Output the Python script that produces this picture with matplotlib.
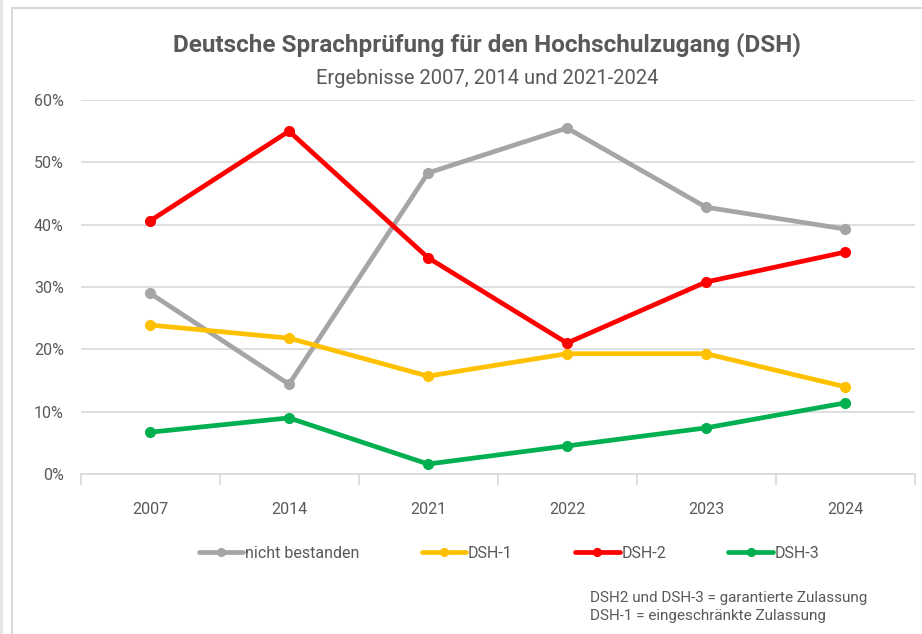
import matplotlib
matplotlib.use("Agg")
import matplotlib.pyplot as plt
from matplotlib.patches import Rectangle
from matplotlib.ticker import FixedLocator, PercentFormatter

years = ["2007", "2014", "2021", "2022", "2023", "2024"]
nicht_bestanden = [29.0, 14.4, 48.3, 55.5, 42.8, 39.3]
dsh1 = [23.9, 21.8, 15.7, 19.3, 19.3, 14.0]
dsh2 = [40.6, 55.0, 34.7, 21.0, 30.8, 35.6]
dsh3 = [6.7, 9.0, 1.6, 4.5, 7.4, 11.4]
series_names = ["nicht bestanden", "DSH-1", "DSH-2", "DSH-3"]
colors = ["#a5a5a5", "#ffc000", "#ff0000", "#00b050"]

title = "Deutsche Sprachprüfung für den Hochschulzugang (DSH)"
subtitle = "Ergebnisse 2007, 2014 und 2021-2024"
note = "DSH2 und DSH-3 = garantierte Zulassung\nDSH-1 = eingeschränkte Zulassung"

plt.rcParams['font.family'] = ["Roboto", "DejaVu Sans"]
txt = "#595959"

fig = plt.figure(figsize=(9.22, 6.34), dpi=100)
fig.patches.append(Rectangle((12/922, -0.01), 1.0, 1 - 8/634 + 0.01, transform=fig.transFigure,
                             facecolor="none", edgecolor="#d9d9d9", linewidth=1.5, zorder=-1))
fig.patches.append(Rectangle((0, 0), 3/922, 1, transform=fig.transFigure,
                             facecolor="#e6e6e6", edgecolor="none", zorder=-1))

ax = fig.add_axes([80.5/922, (634-474)/634, (914.5-80.5)/922, (474-100)/634])
ax.set_facecolor("none")
x = list(range(len(years)))
for vals, name, c in zip([nicht_bestanden, dsh1, dsh2, dsh3], series_names, colors):
    ax.plot(x, vals, color=c, lw=3.4, marker="o", markersize=7, label=name,
            solid_capstyle="round", solid_joinstyle="round")

ax.set_xlim(-0.5, len(years) - 0.5)
ax.set_ylim(0, 60)
ax.yaxis.set_major_locator(FixedLocator([0, 10, 20, 30, 40, 50, 60]))
ax.yaxis.set_major_formatter(PercentFormatter(decimals=0))
ax.grid(axis="y", color="#d9d9d9", lw=1.2)
ax.set_axisbelow(True)
ax.set_xticks(x)
ax.set_xticklabels(years)
ax.set_xticks([i - 0.5 for i in range(len(years) + 1)], minor=True)
ax.tick_params(axis="x", which="major", length=0, pad=20, labelsize=11.5, labelcolor=txt)
ax.tick_params(axis="x", which="minor", length=8, color="#d9d9d9", width=1.2)
ax.tick_params(axis="y", length=0, pad=12, labelsize=11.5, labelcolor=txt)
for s in ["top", "right", "left"]:
    ax.spines[s].set_visible(False)
ax.spines["bottom"].set_color("#d9d9d9")
ax.spines["bottom"].set_linewidth(1.2)

fig.text(487/922, 1 - 45/634, title, ha="center", va="center", fontsize=17.5, color=txt, fontweight="bold")
fig.text(487/922, 1 - 78/634, subtitle, ha="center", va="center", fontsize=14.5, color=txt)

leg = fig.legend(loc="center", bbox_to_anchor=(509/922, 1 - 553/634), ncol=4, frameon=False,
                 fontsize=11.5, handlelength=2.8, handletextpad=0.1, columnspacing=3.9,
                 markerscale=0.8)
for t in leg.get_texts():
    t.set_color(txt)

fig.text(590/922, 1 - 607/634, note, ha="left", va="center", fontsize=11, color=txt, linespacing=1.35)

fig.savefig("out.png", dpi=100)
